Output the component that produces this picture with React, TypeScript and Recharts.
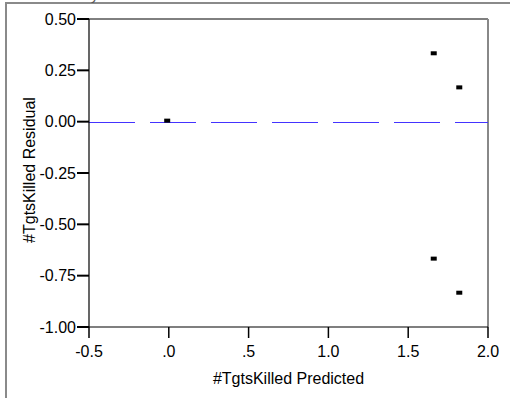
import { ScatterChart, Scatter, XAxis, YAxis, ReferenceLine } from 'recharts';

// residual vs predicted values
const predicted = [-0.01, 1.66, 1.82, 1.66, 1.82];
const residual = [0.005, 0.333, 0.167, -0.667, -0.833];

const xTicks = [-0.5, 0, 0.5, 1.0, 1.5, 2.0];
const xTickLabels = ['-0.5', '.0', '.5', '1.0', '1.5', '2.0'];
const yTicks = [0.5, 0.25, 0, -0.25, -0.5, -0.75, -1.0];
const yTickLabels = ['0.50', '0.25', '0.00', '-0.25', '-0.50', '-0.75', '-1.00'];

const FONT = '"Liberation Sans", Arial, sans-serif';
const FS = 16;

const points = predicted.map((x, i) => ({ x, y: residual[i] }));

const Marker = (props: any) => {
    const { cx, cy } = props;
    return <rect x={cx - 3} y={cy - 2} width={6} height={4} fill="#000" />;
};

// blue dashed zero line, snapped to a whole pixel row
const ZeroLine = (props: any) => {
    const y = Math.round(props.y1) + 0.5;
    return (
        <line x1={props.x1} x2={props.x2} y1={y} y2={y}
            stroke="#4433ff" strokeWidth={1} strokeDasharray="46 15" />
    );
};

const YTitle = (props: any) => {
    const vb = props.viewBox || {};
    const cx = vb.x + 29;
    const cy = vb.y + vb.height / 2 - 3;
    return (
        <text x={cx} y={cy} transform={`rotate(-90 ${cx} ${cy})`} textAnchor="middle"
            dominantBaseline="central" fontSize={FS} fill="#000" fontFamily={FONT}>
            #TgtsKilled Residual
        </text>
    );
};

export default function App() {
    return (
        <div style={{ position: 'absolute', left: 0, top: 0, width: 510, height: 398, background: '#fff', overflow: 'hidden', fontFamily: FONT }}>
            <div style={{ position: 'absolute', left: 5, top: 2, width: 510, height: 400, borderLeft: '2px solid #8a8a8a', borderTop: '2px solid #8a8a8a' }} />
            <svg style={{ position: 'absolute', left: 0, top: 0 }} width={510} height={10}>
                <text x={20} y={0} fontSize={15} fill="#555" fontFamily={FONT}>Residual by Predicted Plot</text>
            </svg>
            <div style={{ position: 'absolute', left: 0, top: 0 }}>
                <ScatterChart width={510} height={398} margin={{ top: 19, right: 22, bottom: 0, left: 0 }}>
                    <XAxis type="number" dataKey="x" domain={[-0.5, 2.0]} ticks={xTicks}
                        tickFormatter={(v: number) => xTickLabels[xTicks.indexOf(v)] ?? String(v)}
                        height={71} tickSize={11} tickMargin={8}
                        axisLine={{ stroke: '#000', strokeWidth: 1.2 }}
                        tickLine={{ stroke: '#000', strokeWidth: 1.5 }}
                        tick={{ fill: '#000', fontSize: FS, fontFamily: FONT }}
                        label={{ value: '#TgtsKilled Predicted', position: 'insideBottom', offset: 14, fill: '#000', fontSize: FS, fontFamily: FONT }}
                        allowDataOverflow />
                    <YAxis type="number" dataKey="y" domain={[-1.0, 0.5]} ticks={yTicks}
                        tickFormatter={(v: number) => yTickLabels[yTicks.indexOf(v)] ?? String(v)}
                        width={89} tickSize={12} tickMargin={1}
                        axisLine={{ stroke: '#000', strokeWidth: 1.2 }}
                        tickLine={{ stroke: '#000', strokeWidth: 2 }}
                        tick={{ fill: '#000', fontSize: FS, fontFamily: FONT }}
                        label={{ content: YTitle }}
                        allowDataOverflow />
                    <ReferenceLine y={0.5} stroke="#000" strokeWidth={1} />
                    <ReferenceLine x={2.0} stroke="#888" strokeWidth={2} />
                    <ReferenceLine y={0} stroke="#4433ff" shape={ZeroLine} />
                    <Scatter data={points} shape={Marker} isAnimationActive={false} />
                </ScatterChart>
            </div>
        </div>
    );
}
